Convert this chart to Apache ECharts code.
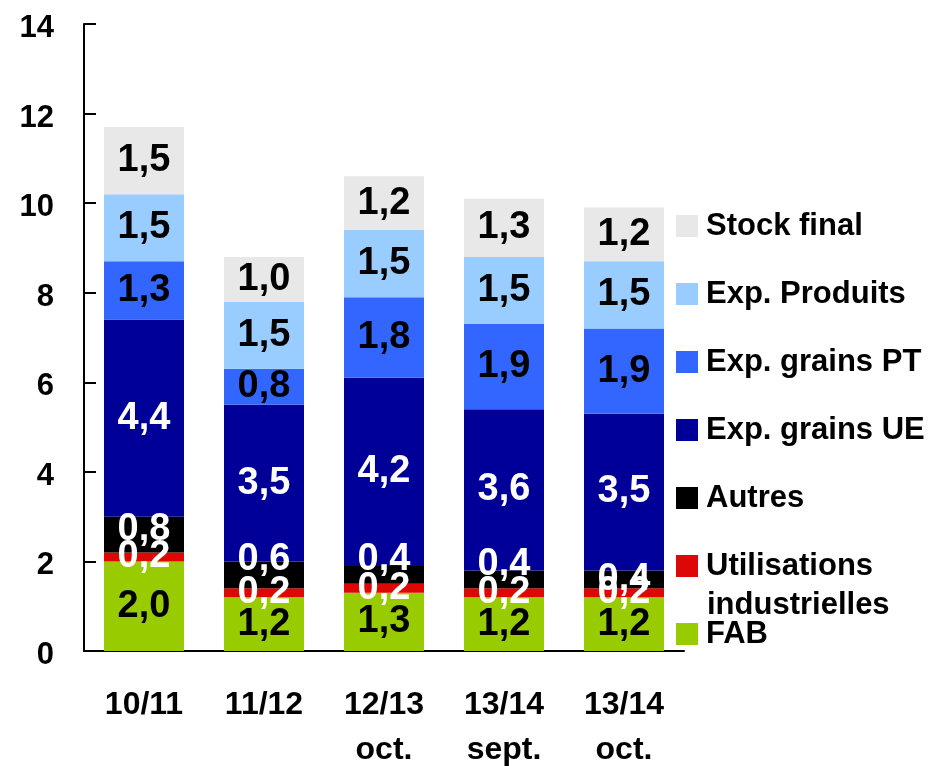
<!DOCTYPE html>
<html><head><meta charset="utf-8">
<script src="https://cdn.jsdelivr.net/npm/echarts@6/dist/echarts.min.js"></script>
<style>html,body{margin:0;padding:0;background:#fff}#c{width:932px;height:766px}</style>
</head><body><div id="c"></div>
<script>
const categories = ['10/11', '11/12', '12/13\noct.', '13/14\nsept.', '13/14\noct.'];
const fab = [2.0, 1.2, 1.3, 1.2, 1.2];
const utilisations = [0.2, 0.2, 0.2, 0.2, 0.2];
const autres = [0.8, 0.6, 0.4, 0.4, 0.4];
const expGrainsUE = [4.4, 3.5, 4.2, 3.6, 3.5];
const expGrainsPT = [1.3, 0.8, 1.8, 1.9, 1.9];
const expProduits = [1.5, 1.5, 1.5, 1.5, 1.5];
const stockFinal = [1.5, 1.0, 1.2, 1.3, 1.2];
const yTicks = [0, 2, 4, 6, 8, 10, 12, 14];

const FONT = '"Liberation Sans", Arial, sans-serif';
const seriesDefs = [
  {name: 'FAB', data: fab, color: '#99CC00', label: '#000'},
  {name: 'Utilisations industrielles', data: utilisations, color: '#DD0806', label: '#fff'},
  {name: 'Autres', data: autres, color: '#000000', label: '#fff'},
  {name: 'Exp. grains UE', data: expGrainsUE, color: '#000099', label: '#fff'},
  {name: 'Exp. grains PT', data: expGrainsPT, color: '#3366FF', label: '#000'},
  {name: 'Exp. Produits', data: expProduits, color: '#99CCFF', label: '#000'},
  {name: 'Stock final', data: stockFinal, color: '#E8E8E8', label: '#000'}
];
const fmt = v => v.toFixed(1).replace('.', ',');

const series = seriesDefs.map(s => ({
  name: s.name, type: 'bar', stack: 'total', barWidth: 80,
  itemStyle: {color: s.color},
  label: {
    show: true, position: 'inside', color: s.label,
    fontFamily: FONT, fontWeight: 'bold', fontSize: 38,
    formatter: p => fmt(p.value)
  },
  data: s.data.map((v, i) => {
    if (s.name === 'Autres' && i > 0 && i < 4) return {value: v, label: {offset: [0, -15]}};
    if (s.name === 'Autres' && i === 0) return {value: v, label: {offset: [0, -5]}};
    return v;
  })
}));

const chart = echarts.init(document.getElementById('c'));
chart.setOption({
  animation: false,
  backgroundColor: '#fff',
  grid: {left: 84, right: 248, top: 24, bottom: 115, outerBoundsMode: 'none', containLabel: false},
  xAxis: {
    type: 'category', data: categories,
    axisLine: {lineStyle: {color: '#000', width: 2}},
    axisTick: {inside: true, length: 11, lineStyle: {color: '#000', width: 2}},
    axisLabel: {color: '#000', fontFamily: FONT, fontWeight: 'bold', fontSize: 32, lineHeight: 45, margin: 32}
  },
  yAxis: {
    type: 'value', min: yTicks[0], max: yTicks[yTicks.length - 1], interval: 2,
    splitLine: {show: false},
    axisLine: {show: true, lineStyle: {color: '#000', width: 2}},
    axisTick: {show: true, inside: true, length: 12, lineStyle: {color: '#000', width: 2}},
    axisLabel: {
      color: '#000', margin: 30,
      formatter: v => '{a|' + v + '}',
      rich: {a: {color: '#000', fontFamily: FONT, fontWeight: 'bold', fontSize: 31, padding: [9, 0, 0, 0]}}
    }
  },
  legend: {
    orient: 'vertical', left: 676, top: 209, padding: 0,
    itemWidth: 22, itemHeight: 22, itemGap: 34,
    icon: 'rect',
    data: seriesDefs.map(s => s.name).reverse(),
    formatter: n => n === 'Utilisations industrielles' ? 'Utilisations' : n,
    textStyle: {color: '#000', fontFamily: FONT, fontWeight: 'bold', fontSize: 31, lineHeight: 34, padding: [0, 0, 0, 3]}
  },
  graphic: [{
    type: 'text', left: 707, top: 590,
    style: {text: 'industrielles', fill: '#000', font: 'bold 31px ' + FONT}
  }],
  series: series
});
</script>
</body></html>
